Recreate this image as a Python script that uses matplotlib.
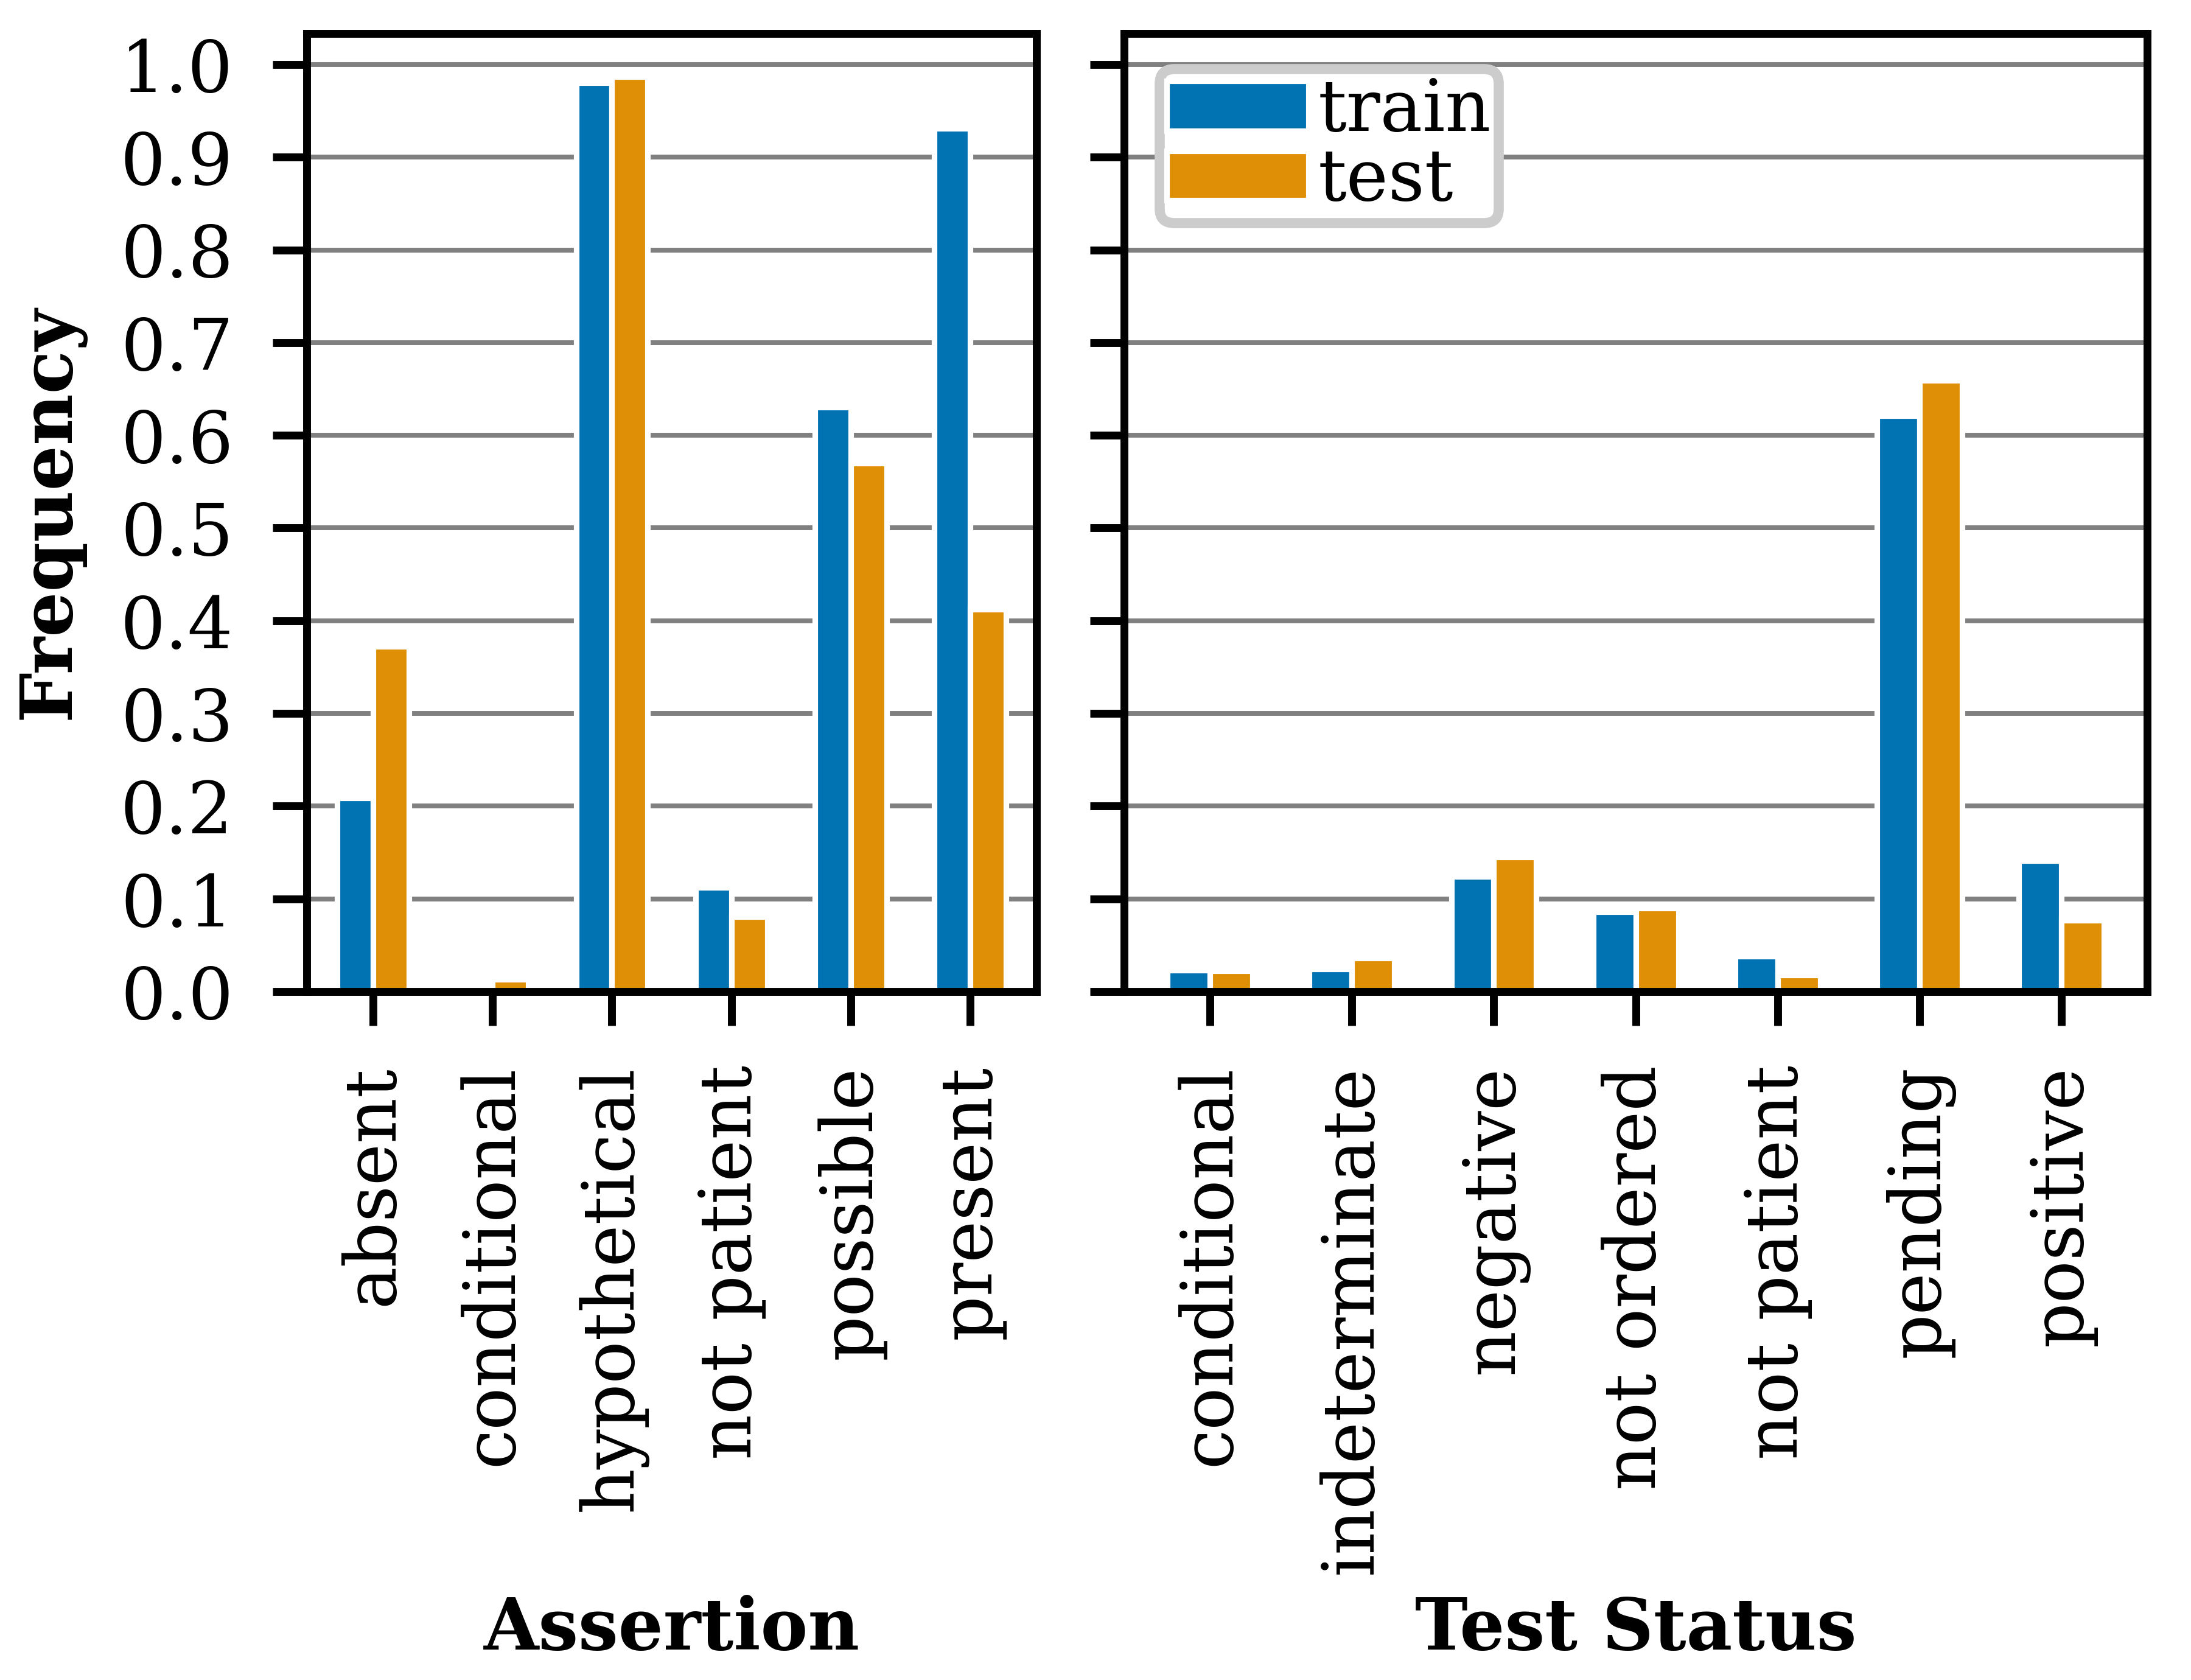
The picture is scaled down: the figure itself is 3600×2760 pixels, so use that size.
import matplotlib
matplotlib.use("Agg")
import matplotlib.pyplot as plt
import numpy as np

# values
assertion_labels = ['absent', 'conditional', 'hypothetical', 'not patient', 'possible', 'present']
assertion_train = [0.209, 0.0, 0.980, 0.112, 0.630, 0.931]
assertion_test = [0.372, 0.013, 0.987, 0.081, 0.570, 0.412]

status_labels = ['conditional', 'indeterminate', 'negative', 'not ordered', 'not patient', 'pending', 'positive']
status_train = [0.023, 0.024, 0.124, 0.086, 0.038, 0.621, 0.141]
status_test = [0.022, 0.036, 0.145, 0.090, 0.018, 0.659, 0.077]

blue = '#0173b2'
orange = '#de8f05'

plt.rcParams['font.family'] = ['DejaVu Serif']
plt.rcParams['font.size'] = 28

fig = plt.figure(figsize=(12, 9.2), dpi=300)
ax1 = fig.add_axes([0.1400, 0.4098, 0.3331, 0.5703])
ax2 = fig.add_axes([0.5131, 0.4098, 0.4669, 0.5703], sharey=ax1)


def draw_panel(ax, labels, train, test, xlabel, pad):
    x = np.arange(len(labels))
    w = 0.3
    ax.bar(x - w / 2, train, w, color=blue, edgecolor='white', linewidth=2.2, label='train', zorder=3)
    ax.bar(x + w / 2, test, w, color=orange, edgecolor='white', linewidth=2.2, label='test', zorder=3)
    ax.set_xlim(-pad, len(labels) - 1 + pad)
    ax.set_xticks(x)
    ax.set_xticklabels(labels, rotation=90)
    ax.yaxis.grid(True, color='#808080', linewidth=1.9, zorder=0)
    ax.set_axisbelow(True)
    for s in ax.spines.values():
        s.set_linewidth(3.1)
        s.set_zorder(4)
    ax.tick_params(axis='both', length=13.5, width=3.1, pad=15.5, labelsize=28)
    ax.set_xlabel(xlabel, fontsize=28, fontweight='bold', va='baseline')
    ax.xaxis.set_label_coords(0.5, -0.6868)


draw_panel(ax1, assertion_labels, assertion_train, assertion_test, 'Assertion', 0.556)
draw_panel(ax2, status_labels, status_train, status_test, 'Test Status', 0.605)

ax1.set_yticks(np.arange(0, 1.01, 0.1))
ax1.set_yticklabels(['%.1f' % v for v in np.arange(0, 1.01, 0.1)])
ax1.set_ylim(0, 1.0335)
ax1.set_ylabel('Frequency', fontsize=28, fontweight='bold')
ax1.yaxis.set_label_coords(-0.304, 0.5)
ax2.tick_params(axis='y', labelleft=False)

leg = ax2.legend(loc='upper left', fontsize=28, handlelength=2.0, handleheight=0.7,
                 handletextpad=0.13, labelspacing=0.0, borderpad=0.1,
                 fancybox=True, framealpha=1)
leg.get_frame().set_edgecolor('#cccccc')
leg.get_frame().set_linewidth(4)

fig.savefig('out.png', dpi=300)
